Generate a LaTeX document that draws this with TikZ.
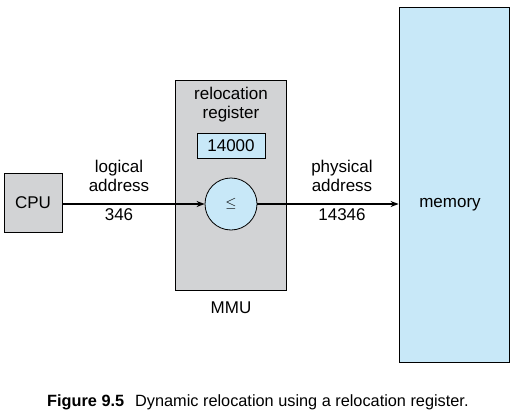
\documentclass[tikz,border=0pt]{standalone}
\usepackage{fontspec}
\setmainfont{Liberation Sans}
\usetikzlibrary{arrows.meta}
\definecolor{boxgray}{HTML}{D2D3D5}
\definecolor{lightblue}{HTML}{C8E8F8}
\begin{document}
\begin{tikzpicture}[x=1pt,y=-1pt,
  lbl/.style={font=\fontsize{17}{19}\selectfont, align=center, inner sep=0pt},
  graybox/.style={draw=black, fill=boxgray, line width=0.8pt, inner sep=0pt},
  bluebox/.style={draw=black, fill=lightblue, line width=0.8pt, inner sep=0pt},
  conn/.style={line width=1.2pt, -{Stealth[length=8pt,width=6pt]}}]
\useasboundingbox (0,0) rectangle (514,415);
% boxes
\node[graybox, minimum width=58pt, minimum height=59pt, lbl] (cpu) at (33,202.5) {CPU};
\node[graybox, minimum width=111pt, minimum height=210pt] (mmu) at (230.5,185) {};
\node[bluebox, minimum width=110pt, minimum height=355pt] (mem) at (454,184.5) {};
\node[lbl] (memlbl) at (450,205) {memory};
\node[bluebox, minimum width=68pt, minimum height=25pt, lbl] (reg) at (231,145.5) {14000};
\node[bluebox, circle, minimum size=52pt, font=\Large] (cmp) at (231,204) {$\leq$};
% texts
\node[lbl] (rr) at (231,105) {relocation\\register};
\node[lbl] (la) at (119,176) {logical\\address};
\node[lbl] (la2) at (119,215) {346};
\node[lbl] (pa) at (342,176) {physical\\address};
\node[lbl] (pa2) at (342,215) {14346};
\node[lbl] (mmul) at (231,308) {MMU};
% connectors
\draw[conn] (cpu.east |- cmp.west) -- (cmp.west);
\draw[conn] (cmp.east) -- (mem.west |- cmp.east);
% caption
\node[anchor=west, inner sep=0pt, font=\fontsize{16.3}{18}\selectfont] (cap) at (47,402) {\textbf{Figure 9.5}\hspace{11pt}Dynamic relocation using a relocation register.};
\end{tikzpicture}
\end{document}
